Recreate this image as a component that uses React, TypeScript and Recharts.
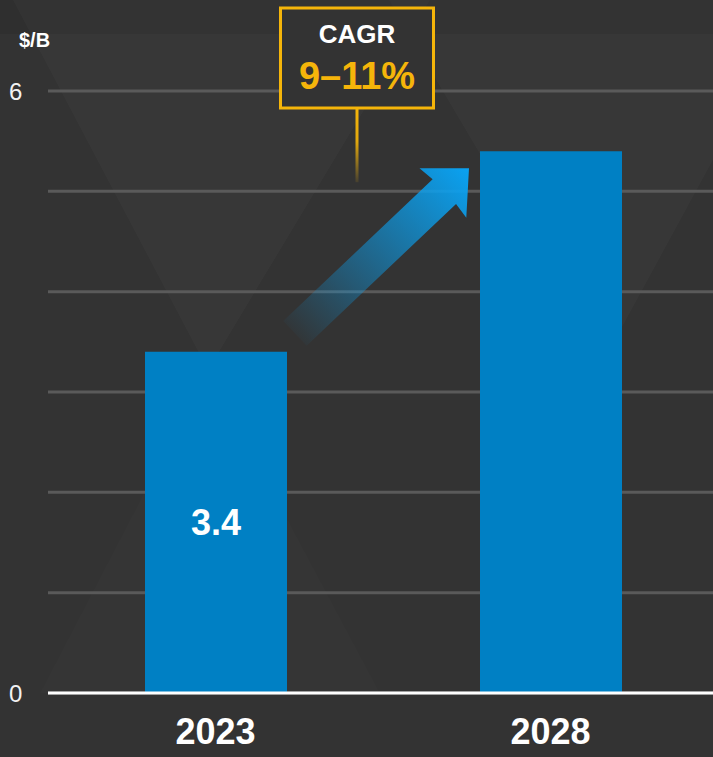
import React from "react"
import { BarChart, Bar, XAxis, YAxis, CartesianGrid, LabelList } from "recharts"

// values
const years = ["2023", "2028"]
const marketSize = [3.4, 5.4]
const barLabels = ["3.4", ""]
const yTicks = [0, 1, 2, 3, 4, 5, 6]
const yTickLabels = ["0", "", "", "", "", "", "6"]
const unitLabel = "$/B"
const cagrTitle = "CAGR"
const cagrRange = "9–11%"

const FONT = "'Liberation Sans', Arial, sans-serif"
const BAR_COLOR = "#0080c4"
const YELLOW = "#f5b50a"

const data = years.map((year, i) => ({ year, value: marketSize[i], label: barLabels[i] }))

const YTick = (props: any) => {
  const { y, payload } = props
  const idx = yTicks.indexOf(payload.value)
  const text = idx >= 0 ? yTickLabels[idx] : ""
  if (!text) return null
  return (
    <text x={9} y={y} dy={9} textAnchor="start" fill="#f2f2f2" fontSize={24} fontFamily={FONT}>
      {text}
    </text>
  )
}

const XTick = (props: any) => {
  const { x, y, payload } = props
  return (
    <text x={x} y={y} dy={43} textAnchor="middle" fill="#ffffff" fontSize={36} fontWeight="bold" fontFamily={FONT}>
      {payload.value}
    </text>
  )
}

// value inside the first bar, growth arrow + CAGR callout next to the second
const BarNote = (props: any) => {
  const { index, value } = props
  const x = Number(props.x)
  const y = Number(props.y)
  const width = Number(props.width)
  const height = Number(props.height)

  if (index === 0) {
    return (
      <text
        x={x + width / 2}
        y={y + height / 2}
        dy={13}
        textAnchor="middle"
        fill="#ffffff"
        fontSize={36}
        fontWeight="bold"
        fontFamily={FONT}
      >
        {value}
      </text>
    )
  }

  if (index !== 1) return null

  const tipX = x - 11
  const tipY = y + 17
  const len = 240
  const boxCx = x - 123
  const boxW = 153
  const boxTop = 8
  const boxH = 100

  return (
    <g>
      <defs>
        <linearGradient id="arrowFade" x1="0" y1="0" x2="1" y2="0">
          <stop offset="0%" stopColor="#0aa2f2" stopOpacity={0.03} />
          <stop offset="100%" stopColor="#0aa2f2" stopOpacity={1} />
        </linearGradient>
        <linearGradient id="stemFade" x1="0" y1="0" x2="0" y2="1">
          <stop offset="0%" stopColor={YELLOW} stopOpacity={1} />
          <stop offset="45%" stopColor={YELLOW} stopOpacity={0.9} />
          <stop offset="100%" stopColor={YELLOW} stopOpacity={0.1} />
        </linearGradient>
      </defs>
      <g transform={`translate(${tipX},${tipY}) rotate(-43.5) translate(${-len},0)`}>
        <polygon
          points={`0,-17 ${len - 34},-17 ${len - 36},-34 ${len},0 ${len - 36},34 ${len - 34},17 0,17`}
          fill="url(#arrowFade)"
        />
      </g>
      <rect x={boxCx - 1.5} y={boxTop + boxH} width={3} height={y + 31 - boxTop - boxH} fill="url(#stemFade)" />
      <rect
        x={boxCx - boxW / 2}
        y={boxTop}
        width={boxW}
        height={boxH}
        fill="#333333"
        stroke={YELLOW}
        strokeWidth={3}
      />
      <text x={boxCx} y={boxTop + 35} textAnchor="middle" fill="#ffffff" fontSize={26} fontWeight="bold" fontFamily={FONT}>
        {cagrTitle}
      </text>
      <text x={boxCx} y={boxTop + 81} textAnchor="middle" fill={YELLOW} fontSize={38} fontWeight="bold" fontFamily={FONT}>
        {cagrRange}
      </text>
    </g>
  )
}

export default function App() {
  return (
    <div
      style={{
        position: "absolute",
        left: 0,
        top: 0,
        width: 713,
        height: 757,
        background: "#333333",
        overflow: "hidden",
        fontFamily: FONT,
      }}
    >
      {/* faint backdrop shapes of the slide */}
      <svg width={713} height={757} style={{ position: "absolute", left: 0, top: 0 }}>
        <polygon points="13,0 430,0 208,370" fill="rgba(255,255,255,0.025)" />
        <polygon points="389,0 800,0 603,362" fill="rgba(255,255,255,0.025)" />
        <polygon points="208,370 380,693 40,693" fill="rgba(255,255,255,0.01)" />
        <rect x={0} y={0} width={713} height={34} fill="rgba(0,0,0,0.07)" />
      </svg>
      <div
        style={{
          position: "absolute",
          left: 19,
          top: 29,
          color: "#ffffff",
          fontSize: 20,
          fontWeight: "bold",
          fontFamily: FONT,
        }}
      >
        {unitLabel}
      </div>
      <div style={{ position: "absolute", left: 0, top: 0 }}>
        <BarChart width={713} height={757} data={data} margin={{ top: 91, right: -5, bottom: 0, left: 0 }}>
          <CartesianGrid horizontal vertical={false} stroke="#5a5a5a" strokeWidth={3} />
          <YAxis
            type="number"
            domain={[0, 6]}
            ticks={yTicks}
            width={48}
            axisLine={false}
            tickLine={false}
            tick={<YTick />}
          />
          <XAxis
            dataKey="year"
            height={64}
            axisLine={{ stroke: "#ffffff", strokeWidth: 3 }}
            tickLine={false}
            tick={<XTick />}
          />
          <Bar dataKey="value" fill={BAR_COLOR} barSize={142} isAnimationActive={false}>
            <LabelList dataKey="label" content={<BarNote />} />
          </Bar>
        </BarChart>
      </div>
    </div>
  )
}
